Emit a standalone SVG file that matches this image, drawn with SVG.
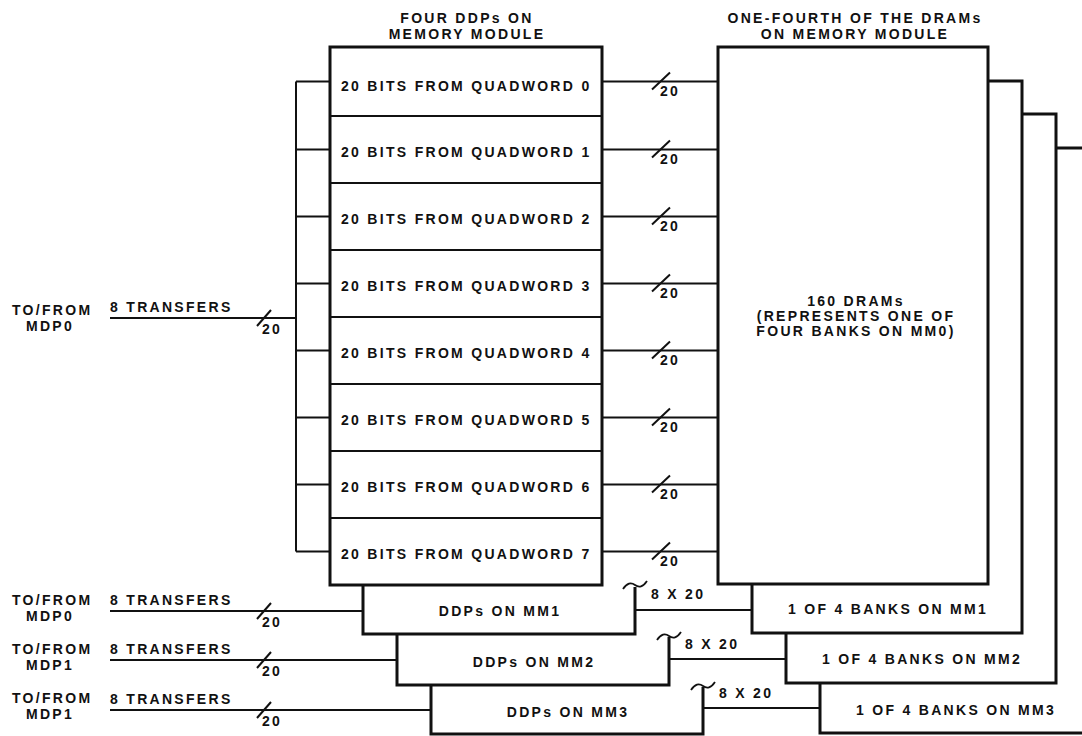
<svg xmlns="http://www.w3.org/2000/svg" width="1082" height="736" viewBox="0 0 1082 736">
<style>
text{font-family:"Liberation Sans",Arial,sans-serif;font-weight:bold;font-size:14px;letter-spacing:2.3px;fill:#111}
.m{text-anchor:middle}
.box{fill:#fff;stroke:#111;stroke-width:3}
.div{stroke:#111;stroke-width:2}
.edge{fill:none;stroke:#111;stroke-width:3}
.w{fill:none;stroke:#111;stroke-width:2}
.s{fill:none;stroke:#111;stroke-width:1.8}
.sm{font-size:13.5px}
</style>
<rect width="1082" height="736" fill="#fff"/>

<g id="headers">
<text class="m" x="467" y="23">FOUR DDPs ON</text>
<text class="m" x="467" y="39">MEMORY MODULE</text>
<text class="m" x="855" y="23">ONE-FOURTH OF THE DRAMs</text>
<text class="m" x="855" y="39">ON MEMORY MODULE</text>
</g>

<g id="dram-stack">
<g id="bank-mm3"><rect class="box" x="820" y="148" width="280" height="585"/><text class="m" x="956" y="715">1 OF 4 BANKS ON MM3</text></g>
<g id="bank-mm2"><rect class="box" x="786" y="114" width="270" height="569"/><text class="m" x="922" y="664">1 OF 4 BANKS ON MM2</text></g>
<g id="bank-mm1"><rect class="box" x="752" y="81" width="270" height="552"/><text class="m" x="888" y="614">1 OF 4 BANKS ON MM1</text></g>
<g id="dram-mm0"><rect class="box" x="718" y="47" width="270" height="537"/>
<text class="m" x="856" y="306">160 DRAMs</text>
<text class="m" x="856" y="321">(REPRESENTS ONE OF</text>
<text class="m" x="856" y="336">FOUR BANKS ON MM0)</text></g>
</g>

<g id="ddp-mm3"><path class="edge" d="M431,685 V734 H703 V687"/><path class="s" d="M691,690 C695,684 699,683 703,686 S711,688 715,682"/><text class="m" x="568" y="717">DDPs ON MM3</text></g>
<g id="ddp-mm2"><path class="edge" d="M397,634 V685 H669 V637"/><path class="s" d="M657,640 C661,634 665,633 669,636 S677,638 681,632"/><text class="m" x="534" y="667">DDPs ON MM2</text></g>
<g id="ddp-mm1"><path class="edge" d="M363,585 V634 H635 V587"/><path class="s" d="M623,589 C627,583 631,582 635,585 S643,587 647,581"/><text class="m" x="500" y="616">DDPs ON MM1</text></g>

<g id="ddp-mm0">
<rect class="box" x="330" y="47" width="272" height="538"/>
<path class="div" d="M330,116H602M330,183H602M330,250H602M330,317H602M330,384H602M330,451H602M330,518H602"/>
<text x="341" y="91">20 BITS FROM QUADWORD 0</text>
<text x="341" y="157">20 BITS FROM QUADWORD 1</text>
<text x="341" y="224">20 BITS FROM QUADWORD 2</text>
<text x="341" y="291">20 BITS FROM QUADWORD 3</text>
<text x="341" y="358">20 BITS FROM QUADWORD 4</text>
<text x="341" y="425">20 BITS FROM QUADWORD 5</text>
<text x="341" y="492">20 BITS FROM QUADWORD 6</text>
<text x="341" y="559">20 BITS FROM QUADWORD 7</text>
</g>

<g id="connectors">
<path class="w" d="M296,81.5V551.5"/>
<path class="w" d="M296,81.5H330M296,149.5H330M296,216.5H330M296,283.5H330M296,350.5H330M296,417.5H330M296,484.5H330M296,551.5H330"/>
<path class="w" d="M602,81.5H718M602,149.5H718M602,216.5H718M602,283.5H718M602,350.5H718M602,417.5H718M602,484.5H718M602,551.5H718"/>
<path class="w" d="M652,89.5L670,72.5M652,157.5L670,140.5M652,224.5L670,207.5M652,291.5L670,274.5M652,358.5L670,341.5M652,425.5L670,408.5M652,492.5L670,475.5M652,559.5L670,542.5"/>
<g class="sm">
<text x="660" y="96">20</text><text x="660" y="164">20</text><text x="660" y="231">20</text><text x="660" y="298">20</text>
<text x="660" y="365">20</text><text x="660" y="432">20</text><text x="660" y="499">20</text><text x="660" y="566">20</text>
</g>
<path class="w" d="M110,318H296M110,611H363M110,660H397M110,710H431"/>
<path class="w" d="M257,326L271,310M257,619L271,603M257,668L271,652M257,718L271,702"/>
<g class="sm"><text x="262" y="334">20</text><text x="262" y="627">20</text><text x="262" y="676">20</text><text x="262" y="726">20</text></g>
<path class="w" d="M635,610H752M669,659H786M703,708H820"/>
<text x="651" y="599">8 X 20</text>
<text x="685" y="649">8 X 20</text>
<text x="719" y="698">8 X 20</text>
</g>

<g id="sources">
<text x="12" y="315">TO/FROM</text><text x="26" y="331">MDP0</text><text x="110" y="312">8 TRANSFERS</text>
<text x="12" y="605">TO/FROM</text><text x="26" y="621">MDP0</text><text x="110" y="605">8 TRANSFERS</text>
<text x="12" y="654">TO/FROM</text><text x="26" y="670">MDP1</text><text x="110" y="654">8 TRANSFERS</text>
<text x="12" y="703">TO/FROM</text><text x="26" y="719">MDP1</text><text x="110" y="704">8 TRANSFERS</text>
</g>
</svg>
